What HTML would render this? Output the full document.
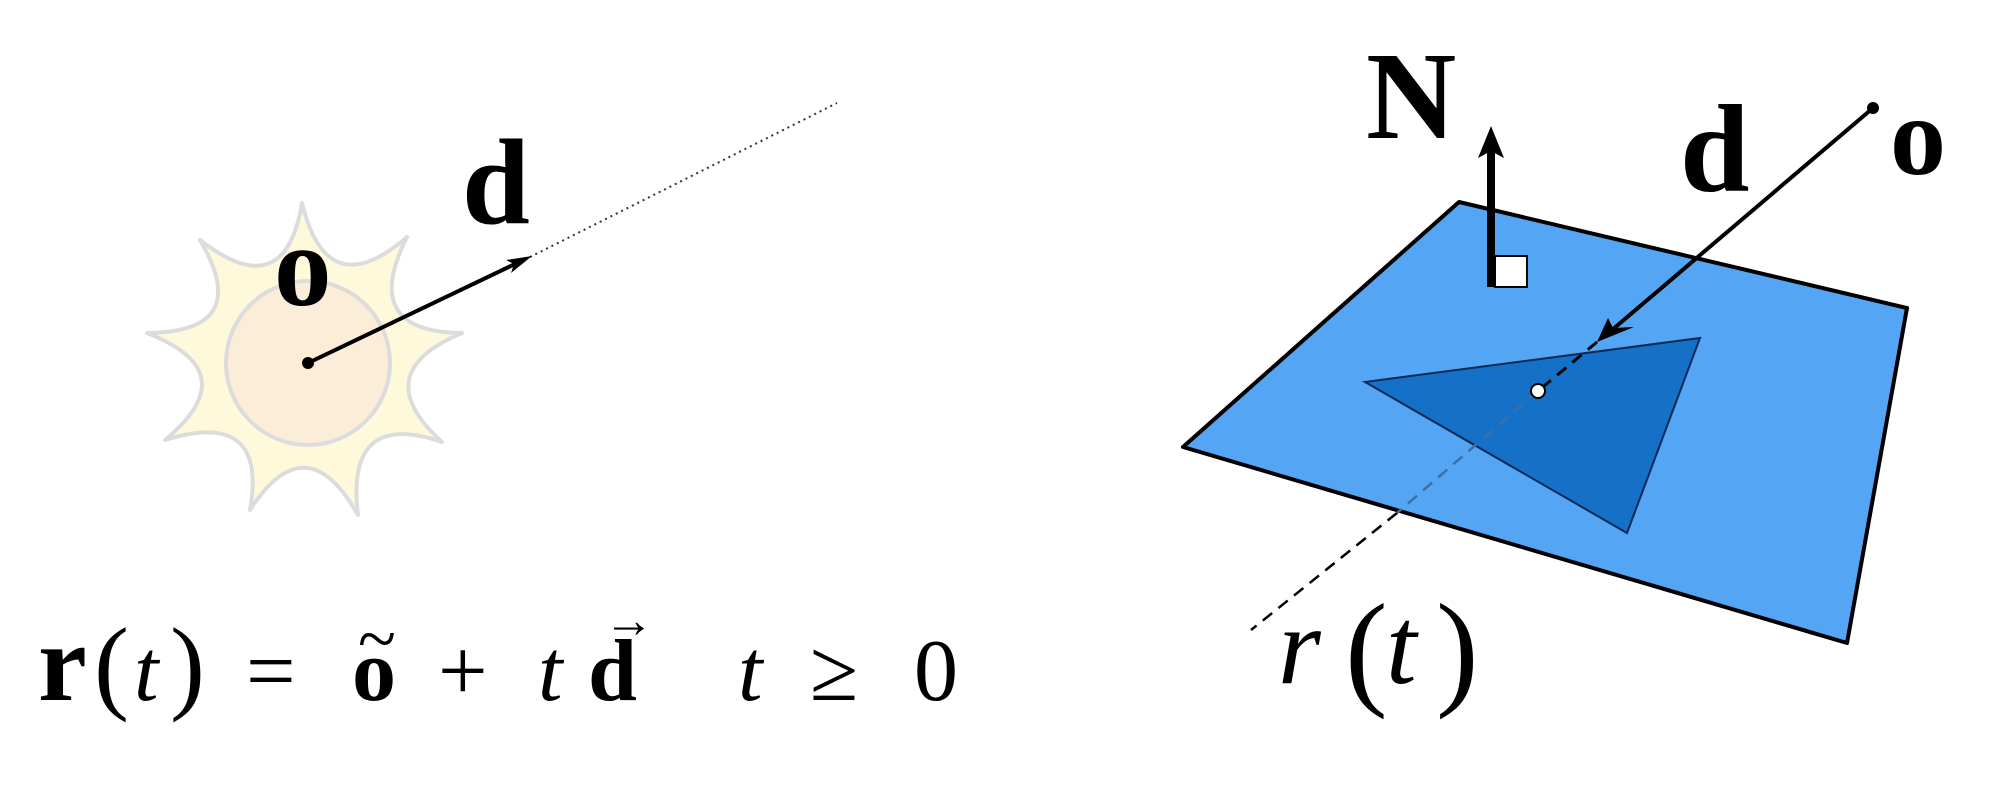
<!DOCTYPE html>
<html><head><meta charset="utf-8"><style>
html,body{margin:0;padding:0;background:#fff;}
svg{display:block;}
text{font-family:"Liberation Serif","DejaVu Serif",serif;fill:#000;}
</style></head><body>
<svg width="2013" height="789" viewBox="0 0 2013 789" xmlns="http://www.w3.org/2000/svg">
<path d="M302,203 Q327,306 407,237 Q359,332 462,333 Q366,373 442,442 Q345,409 358,515 Q306,423 250,510 Q268,408 165,440 Q247,372 147,333 Q254,332 200,240 Q285,306 302,203 Z" fill="#fff9dc" stroke="#dcdcdc" stroke-width="4" stroke-linejoin="round"/>
<circle cx="308" cy="363" r="82" fill="#fcedd8" stroke="#dcdcdc" stroke-width="4"/>
<line x1="530" y1="257" x2="837" y2="103" stroke="#333" stroke-width="2" stroke-dasharray="2,4"/>
<line x1="308" y1="363" x2="515" y2="264" stroke="#000" stroke-width="4"/>
<polygon points="532,256 506,260 514,264 511,273" fill="#000"/>
<circle cx="308" cy="363" r="6" fill="#000"/>
<text x="274" y="305" font-size="115" font-weight="bold">o</text>
<text x="462" y="223" font-size="122" font-weight="bold">d</text>
<g font-size="88">
<text x="38" y="700" font-weight="bold" font-size="110">r</text>
<text x="94" y="700" font-size="105">(</text>
<text x="134" y="700" font-style="italic">t</text>
<text x="170" y="700" font-size="105">)</text>
<text x="246" y="700">=</text>
<text x="352" y="700" font-weight="bold">o</text>
<text x="358" y="662" font-size="70">~</text>
<text x="438" y="700">+</text>
<text x="538" y="700" font-style="italic">t</text>
<text x="588" y="700" font-weight="bold">d</text>
<text x="604" y="637" font-size="50">→</text>
<text x="738" y="700" font-style="italic">t</text>
<text x="810" y="700">≥</text>
<text x="914" y="700">0</text>
</g>
<polygon points="1459,202 1907,308 1847,643 1183,447" fill="#55a5f5" stroke="#000" stroke-width="4" stroke-linejoin="round"/>
<polygon points="1365,382 1700,338 1627,533" fill="#1570c8" stroke="#0a2a55" stroke-width="2"/>
<line x1="1597" y1="342" x2="1538" y2="391" stroke="#000" stroke-width="3" stroke-dasharray="12,8"/>
<line x1="1538" y1="391" x2="1397" y2="513" stroke="#3a6fa8" stroke-width="2.5" stroke-dasharray="12,8"/>
<line x1="1397" y1="513" x2="1251" y2="630" stroke="#000" stroke-width="2.5" stroke-dasharray="12,8"/>
<circle cx="1538" cy="391" r="7" fill="#fff" stroke="#000" stroke-width="2"/>
<line x1="1873" y1="108" x2="1612" y2="330" stroke="#000" stroke-width="4"/>
<polygon points="1597,342 1608,318 1613,328 1634,327" fill="#000"/>
<circle cx="1873" cy="108" r="6" fill="#000"/>
<rect x="1495" y="256" width="32" height="31" fill="#fff" stroke="#000" stroke-width="2"/>
<line x1="1491" y1="287" x2="1491" y2="150" stroke="#000" stroke-width="8"/>
<polygon points="1491,126 1478,158 1491,151 1504,158" fill="#000"/>
<text x="1366" y="138" font-size="125" font-weight="bold">N</text>
<text x="1680" y="191" font-size="125" font-weight="bold">d</text>
<text x="1890" y="174" font-size="112" font-weight="bold">o</text>
<g font-size="110">
<text x="1278" y="683" font-style="italic">r</text>
<text x="1345" y="692" font-size="128">(</text>
<text x="1386" y="683" font-style="italic">t</text>
<text x="1436" y="692" font-size="128">)</text>
</g>
</svg>
</body></html>
